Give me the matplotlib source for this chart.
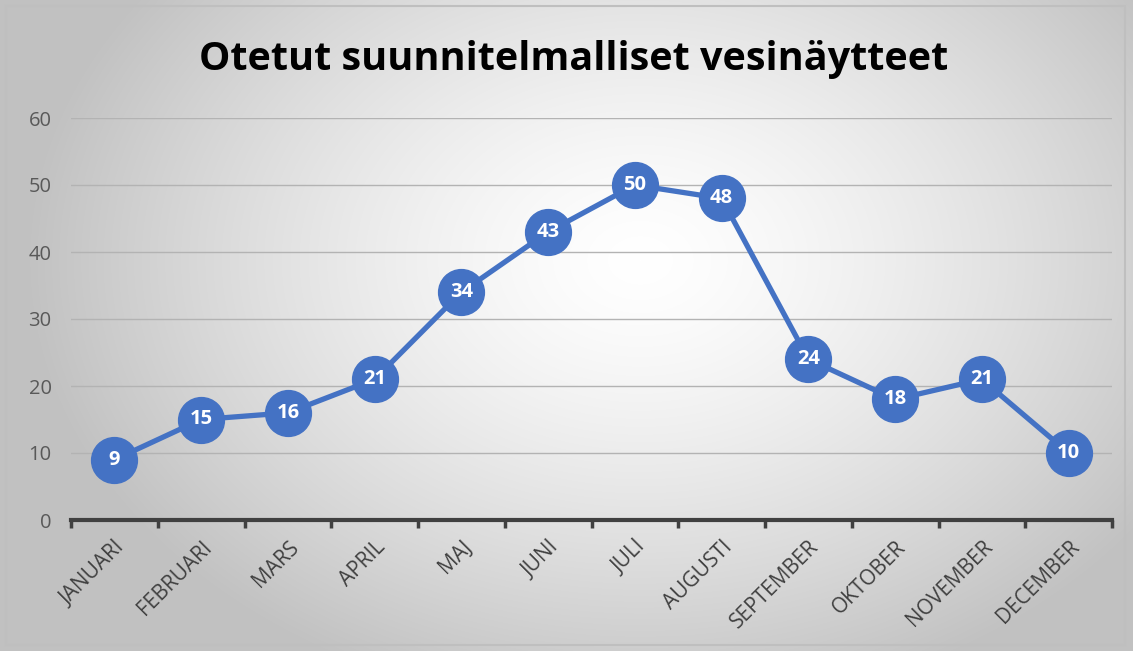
import numpy as np
import matplotlib.pyplot as plt

months = ["JANUARI", "FEBRUARI", "MARS", "APRIL", "MAJ", "JUNI", "JULI",
          "AUGUSTI", "SEPTEMBER", "OKTOBER", "NOVEMBER", "DECEMBER"]
samples = [9, 15, 16, 21, 34, 43, 50, 48, 24, 18, 21, 10]
title = "Otetut suunnitelmalliset vesinäytteet"

plt.rcParams['font.family'] = ['Open Sans', 'DejaVu Sans']

fig = plt.figure(figsize=(11.33, 6.51), dpi=100)

# radial gradient background
bg = fig.add_axes([0, 0, 1, 1], zorder=-10)
yy, xx = np.mgrid[0:651, 0:1133]
d = np.sqrt(((xx - 640) / 700.0) ** 2 + ((yy - 260) / 520.0) ** 2)
g = np.clip(1.0 - 0.29 * d ** 1.4, 0.76, 1.0)
bg.imshow(np.dstack([g, g, g]), extent=[0, 1133, 651, 0], aspect='auto')
bg.set_xlim(0, 1133)
bg.set_ylim(651, 0)
bg.add_patch(plt.Rectangle((6, 6), 1119, 639, fill=False, ec='#bfbfbf', lw=1.5))
bg.axis('off')

ax = fig.add_axes([71 / 1133, 1 - 520 / 651, (1112 - 71) / 1133, (520 - 118) / 651])
ax.patch.set_alpha(0)

x = np.arange(len(months))
ax.plot(x, samples, color='#4472C4', lw=3.8, marker='o', markersize=33,
        zorder=3, clip_on=False)
for xi, v in zip(x, samples):
    ax.text(xi, v, str(v), ha='center', va='center', color='white',
            fontsize=14.5, fontweight='bold', zorder=4)

ax.set_ylim(0, 60)
ax.set_xlim(-0.5, len(months) - 0.5)
ax.set_yticks(range(0, 61, 10))
ax.tick_params(axis='y', length=0, labelsize=14.5, labelcolor='#595959', pad=14)
ax.grid(axis='y', color='#b3b3b3', lw=1)
ax.set_axisbelow(True)

ax.set_xticks(np.arange(-0.5, len(months), 1.0))
ax.set_xticklabels([])
ax.set_xticks(x, minor=True)
ax.set_xticklabels(months, minor=True, rotation=45, ha='right',
                   rotation_mode='anchor', fontsize=15, color='#404040')
ax.tick_params(axis='x', which='major', length=6, width=2.5, color='#404040',
               direction='out')
ax.tick_params(axis='x', which='minor', length=0, pad=12)

for s in ['top', 'right', 'left']:
    ax.spines[s].set_visible(False)
ax.spines['bottom'].set_color('#404040')
ax.spines['bottom'].set_linewidth(3)

fig.text(0.506, 0.908, title, ha='center', va='center', fontsize=28.5,
         fontweight='bold', color='black')

fig.savefig('out.png', dpi=100)
